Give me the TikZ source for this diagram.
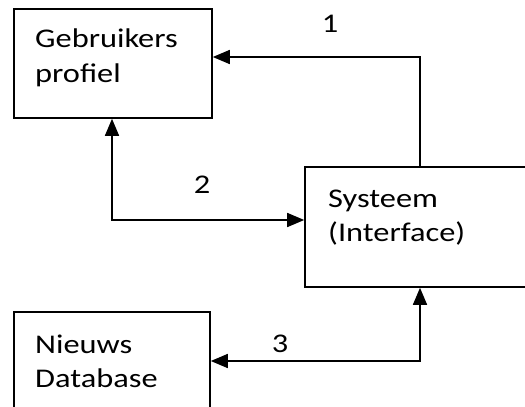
\documentclass[tikz,border=0pt]{standalone}
\usepackage{fontspec}
\newfontfamily\boxfont[FakeStretch=1.2]{Carlito}
\usetikzlibrary{arrows.meta}
\begin{document}
\begin{tikzpicture}[x=1pt,y=-1pt,
  box/.style={draw,line width=1.6pt,inner sep=0pt,minimum width=#1},
  lbl/.style={anchor=base west,inner sep=0pt,font=\boxfont\fontsize{27}{27}\selectfont},
  num/.style={anchor=base,inner sep=0pt,font=\boxfont\fontsize{27}{27}\selectfont},
  arr/.style={line width=1.6pt,{Triangle[length=17pt,width=14pt]}-{Triangle[length=17pt,width=14pt]}},
  arrone/.style={line width=1.6pt,-{Triangle[length=17pt,width=14pt]}}]
\clip (0,0) rectangle (525,407);
\fill[white] (0,0) rectangle (525,407);
\node[box=198pt,minimum height=109pt] (gp) at (113,63.5) {};
\node[box=235pt,minimum height=120pt] (sys) at (422.5,227) {};
\node[box=196pt,minimum height=118pt] (db) at (112,371) {};
\node[lbl] (t1a) at (35,47) {Gebruikers};
\node[lbl] (t1b) at (35,82) {profiel};
\node[lbl] (t2a) at (328,207) {Systeem};
\node[lbl] (t2b) at (328,241) {(Interface)};
\node[lbl] (t3a) at (35,353) {Nieuws};
\node[lbl] (t3b) at (35,387) {Database};
\coordinate (c1) at (420,57);
\coordinate (c2) at (112,220);
\coordinate (c3) at (420,361);
\draw[arrone] (c1 |- sys.north) -- (c1) -- (gp.east |- c1);
\draw[arr] (gp.south -| c2) -- (c2) -- (sys.west |- c2);
\draw[arr] (db.east |- c3) -- (c3) -- (sys.south -| c3);
\node[num] (n1) at (330,32) {1};
\node[num] (n2) at (202,193) {2};
\node[num] (n3) at (280,352) {3};
\end{tikzpicture}
\end{document}
